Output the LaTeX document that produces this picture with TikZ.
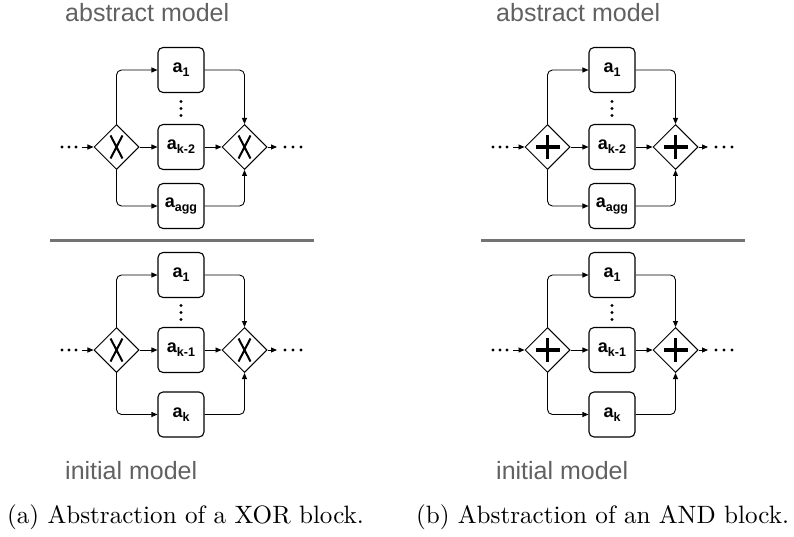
\documentclass[tikz,border=0pt]{standalone}
\usepackage{fontspec}
\setsansfont{Liberation Sans}
% captions in the 10pt design size of Latin Modern Roman
\newfontfamily\capfont{lmroman10-regular}[Extension=.otf]
\usetikzlibrary{shapes.geometric,arrows.meta,calc}

% activity label: bold "a" with a bold subscript
\newcommand\act[1]{{\sffamily\bfseries\fontsize{18}{18}\selectfont a\raisebox{-3.8pt}{\fontsize{12.5}{13}\selectfont #1}}}

% one gateway block: #1 prefix, #2 gateway style, #3/#4/#5 y of the three rows,
% #6 middle subscript, #7 bottom subscript
\newcommand\gwblock[7]{%
  \node[task] (#1a) at (181,#3) {\act{1}};
  \node[task] (#1b) at (181,#4) {\act{#6}};
  \node[task] (#1c) at (181,#5) {\act{#7}};
  \node[#2] (#1l) at (116.5,#4) {};
  \node[#2] (#1r) at (244.5,#4) {};
  \coordinate (#1in) at (82,#4);
  \coordinate (#1out) at (277,#4);
  \foreach \x in {62,69,76} \fill (\x,#4) circle (1.6);
  \foreach \x in {285,293,301} \fill (\x,#4) circle (1.6);
  \foreach \d in {-7,0,7} \fill ($(#1a.south)!.5!(#1b.north)+(0,\d)$) circle (1.6);
  \draw[flow] (#1in) -- (#1l);
  \draw[flow] (#1l) -- (#1b);
  \draw[flow] (#1l.north) |- (#1a);
  \draw[flow] (#1l.south) |- (#1c);
  \draw[flow] (#1a) -| (#1r.north);
  \draw[flow] (#1c) -| (#1r.south);
  \draw[flow] (#1b) -- (#1r);
  \draw[flow] (#1r) -- (#1out);
}

% one panel: #1 prefix, #2 gateway style
\newcommand\panel[2]{%
  \node[lbl] (#1abs) at (65,22) {abstract model};
  \gwblock{#1u}{#2}{70}{147}{206}{k-2}{agg}
  \coordinate (#1s0) at (50,240);
  \coordinate (#1s1) at (314,240);
  \draw[sep] (#1s0) -- (#1s1);
  \gwblock{#1d}{#2}{275}{350}{414.5}{k-1}{k}
  \node[lbl] (#1ini) at (65,479) {initial model};
}

\begin{document}
\begin{tikzpicture}[x=1pt,y=-1pt,
  task/.style={draw, rounded corners=5, minimum width=46, minimum height=45,
    line width=1.1, inner sep=0},
  gate/.style={draw, diamond, minimum width=45, minimum height=45, inner sep=0,
    line width=1},
  xorgate/.style={gate, path picture={
    \draw[line width=2]
      (path picture bounding box.center) ++(-6,-11.5) -- ++(12,23)
      (path picture bounding box.center) ++(6,-11.5) -- ++(-12,23);}},
  andgate/.style={gate, path picture={
    \draw[line width=3.6]
      (path picture bounding box.center) ++(-12,0) -- ++(24,0)
      (path picture bounding box.center) ++(0,-12) -- ++(0,24);}},
  flow/.style={line width=0.9, rounded corners=5, -{Triangle[length=6,width=5]}},
  sep/.style={line width=3, color=black!55},
  lbl/.style={anchor=base west, inner sep=0, text=black!62,
    font=\sffamily\fontsize{25}{28}\selectfont},
  captext/.style={anchor=base, inner sep=0, font=\capfont\fontsize{25.1}{30}\selectfont}]
\useasboundingbox (0,0) rectangle (794,537);

\panel{x}{xorgate}
\begin{scope}[xshift=431pt]
  \panel{p}{andgate}
\end{scope}

\node[captext] (capa) at (185.5,523) {(a) Abstraction of a XOR block.};
\node[captext] (capb) at (602.5,523) {(b) Abstraction of an AND block.};
\end{tikzpicture}
\end{document}
